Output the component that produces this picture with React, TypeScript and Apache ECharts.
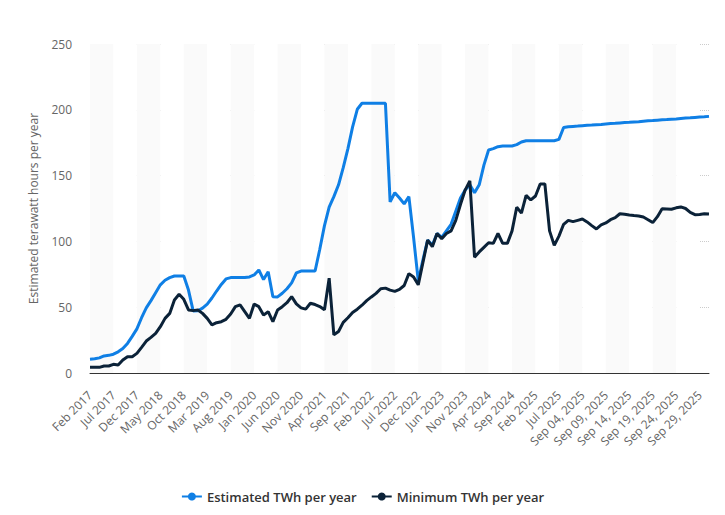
import React, { useEffect, useRef } from "react";
import * as echarts from "echarts";

const categories: string[] = [
  "Feb 2017", "Mar 2017", "Apr 2017", "May 2017", "Jun 2017", "Jul 2017", "Aug 2017", "Sep 2017", "Oct 2017", "Nov 2017", "Dec 2017",
  "Jan 2018", "Feb 2018", "Mar 2018", "Apr 2018", "May 2018", "Jun 2018", "Jul 2018", "Aug 2018", "Sep 2018", "Oct 2018", "Nov 2018", "Dec 2018",
  "Jan 2019", "Feb 2019", "Mar 2019", "Apr 2019", "May 2019", "Jun 2019", "Jul 2019", "Aug 2019", "Sep 2019", "Oct 2019", "Nov 2019", "Dec 2019",
  "Jan 2020", "Feb 2020", "Mar 2020", "Apr 2020", "May 2020", "Jun 2020", "Jul 2020", "Aug 2020", "Sep 2020", "Oct 2020", "Nov 2020", "Dec 2020",
  "Jan 2021", "Feb 2021", "Mar 2021", "Apr 2021", "May 2021", "Jun 2021", "Jul 2021", "Aug 2021", "Sep 2021", "Oct 2021", "Nov 2021", "Dec 2021",
  "Jan 2022", "Feb 2022", "Mar 2022", "Apr 2022", "May 2022", "Jun 2022", "Jul 2022", "Aug 2022", "Sep 2022", "Oct 2022", "Nov 2022", "Dec 2022",
  "Jan 2023", "Feb 2023", "Mar 2023", "Apr 2023", "Jun 2023", "Jul 2023", "Aug 2023", "Sep 2023", "Oct 2023", "Nov 2023", "Dec 2023",
  "Jan 2024", "Feb 2024", "Mar 2024", "Apr 2024", "May 2024", "Jun 2024", "Jul 2024", "Aug 2024", "Sep 2024", "Oct 2024", "Nov 2024", "Dec 2024",
  "Jan 2025", "Feb 2025", "Mar 2025", "Apr 2025", "May 2025", "Jun 2025", "Jul 2025", "Aug 2025",
  "Sep 01, 2025", "Sep 02, 2025", "Sep 03, 2025", "Sep 04, 2025", "Sep 05, 2025", "Sep 06, 2025", "Sep 07, 2025", "Sep 08, 2025",
  "Sep 09, 2025", "Sep 10, 2025", "Sep 11, 2025", "Sep 12, 2025", "Sep 13, 2025", "Sep 14, 2025", "Sep 15, 2025", "Sep 16, 2025",
  "Sep 17, 2025", "Sep 18, 2025", "Sep 19, 2025", "Sep 20, 2025", "Sep 21, 2025", "Sep 22, 2025", "Sep 23, 2025", "Sep 24, 2025",
  "Sep 25, 2025", "Sep 26, 2025", "Sep 27, 2025", "Sep 28, 2025", "Sep 29, 2025", "Sep 30, 2025", "Oct 01, 2025",
];

const estimatedTWh: number[] = [
  10.5, 10.8, 11.5, 13, 13.4, 14.3, 16.1, 18.6, 22.5, 27.8,
  33.5, 42, 49.5, 55, 61, 67, 70.5, 72.5, 73.7, 73.7,
  73.7, 63, 47.2, 47.3, 49.3, 52.3, 57, 62.3, 67.3, 71.5,
  72.5, 72.5, 72.5, 72.5, 73, 74.5, 78.3, 71, 77, 58,
  57.8, 60.6, 64, 68.5, 76, 77.5, 77.5, 77.5, 77.5, 94,
  112, 126, 134, 143, 156, 170.5, 187, 200.4, 205, 205,
  205, 205, 205, 205, 130, 137, 133, 128.5, 134, 103,
  70, 86, 101, 97, 106, 103, 108, 113, 123, 133,
  139, 143, 137, 143, 158, 169.5, 170.5, 172, 172.5, 172.5,
  172.5, 173.5, 175.5, 176.5, 176.5, 176.5, 176.5, 176.5, 176.5, 176.5,
  177.5, 186.5, 187.1, 187.4, 187.6, 187.9, 188.2, 188.4, 188.7, 188.9,
  189.2, 189.5, 189.7, 190.0, 190.3, 190.5, 190.8, 191.0, 191.3, 191.6,
  191.8, 192.1, 192.4, 192.6, 192.9, 193.1, 193.4, 193.7, 193.9, 194.2,
  194.5, 194.7, 195.0,
];

const minimumTWh: number[] = [
  4.3, 4.3, 4.3, 5.3, 5.3, 6.6, 6.1, 9.9, 12.4, 12.4,
  14.9, 19.5, 24.3, 27.1, 30.1, 35.2, 41.5, 45.3, 55.5, 59.8,
  56, 47.9, 47.4, 47.9, 45.3, 41.5, 36.5, 38.2, 39, 40.8,
  44.8, 50.4, 51.7, 46.6, 41.5, 52.4, 50.4, 44, 46.6, 39,
  47.9, 50.4, 53.4, 58, 52.5, 49.5, 48.5, 53, 52, 50.5,
  48, 72, 29, 31.5, 38.5, 42, 46, 48.5, 51.5, 55,
  57.8, 60.5, 64, 64.5, 63, 62, 63.5, 66.5, 75.5, 73,
  67, 84, 101, 96, 106, 102, 106, 108, 116, 128,
  139, 146, 88, 92, 95.5, 99, 98.5, 106, 98.5, 98.5,
  108, 126, 121.5, 135, 131.5, 134.5, 143.6, 143.6, 108, 97,
  104, 113, 116, 115, 116, 117, 114.8, 112, 109.5, 112.5,
  114, 116.5, 118, 121, 120.6, 120, 119.6, 119.3, 118.5, 116.5,
  114.3, 118.8, 124.8, 124.6, 124.4, 125.5, 126.2, 125, 122, 120.3,
  120.5, 121, 120.8,
];

const seriesNames = ["Estimated TWh per year", "Minimum TWh per year"];
const yAxisTitle = "Estimated terawatt hours per year";

export default function App() {
  const ref = useRef<HTMLDivElement>(null);

  useEffect(() => {
    if (!ref.current) return;
    const chart = echarts.init(ref.current, null, { renderer: "svg" });
    chart.setOption({
      animation: false,
      backgroundColor: "#ffffff",
      textStyle: { fontFamily: "'Open Sans', sans-serif" },
      grid: { left: 90, right: 16, top: 44, bottom: 142, containLabel: false },
      legend: {
        data: seriesNames,
        top: 485,
        left: "center",
        itemWidth: 20,
        itemHeight: 10,
        itemGap: 14,
        textStyle: { color: "#333333", fontSize: 13, fontWeight: 600 },
      },
      xAxis: {
        type: "category",
        data: categories,
        boundaryGap: false,
        axisLine: { show: true, lineStyle: { color: "#333333", width: 1 } },
        axisTick: { show: false },
        axisLabel: { interval: 4, rotate: 45, color: "#666666", fontSize: 12, margin: 20 },
        splitLine: { show: false },
        splitArea: {
          show: true,
          interval: 4,
          areaStyle: { color: ["#fafafa", "#ffffff"] },
        },
      },
      yAxis: {
        type: "value",
        min: 0,
        max: 250,
        interval: 50,
        name: yAxisTitle,
        nameLocation: "middle",
        nameGap: 51,
        nameTextStyle: { color: "#666666", fontSize: 12 },
        axisLine: { show: false },
        axisTick: { show: false },
        axisLabel: { color: "#666666", fontSize: 12, margin: 18 },
        splitLine: { lineStyle: { color: "#cccccc", type: "dotted", width: 1 } },
      },
      series: [
        {
          name: seriesNames[0],
          type: "line",
          data: estimatedTWh,
          symbol: "circle",
          symbolSize: 8,
          showSymbol: false,
          lineStyle: { width: 3, color: "#0f7fe5" },
          itemStyle: { color: "#0f7fe5" },
          emphasis: { disabled: true },
        },
        {
          name: seriesNames[1],
          type: "line",
          data: minimumTWh,
          symbol: "circle",
          symbolSize: 8,
          showSymbol: false,
          lineStyle: { width: 3, color: "#0b2238" },
          itemStyle: { color: "#0b2238" },
          emphasis: { disabled: true },
        },
      ],
    });
    return () => chart.dispose();
  }, []);

  return (
    <div
      ref={ref}
      style={{ position: "absolute", left: 0, top: 0, width: 725, height: 515 }}
    />
  );
}
